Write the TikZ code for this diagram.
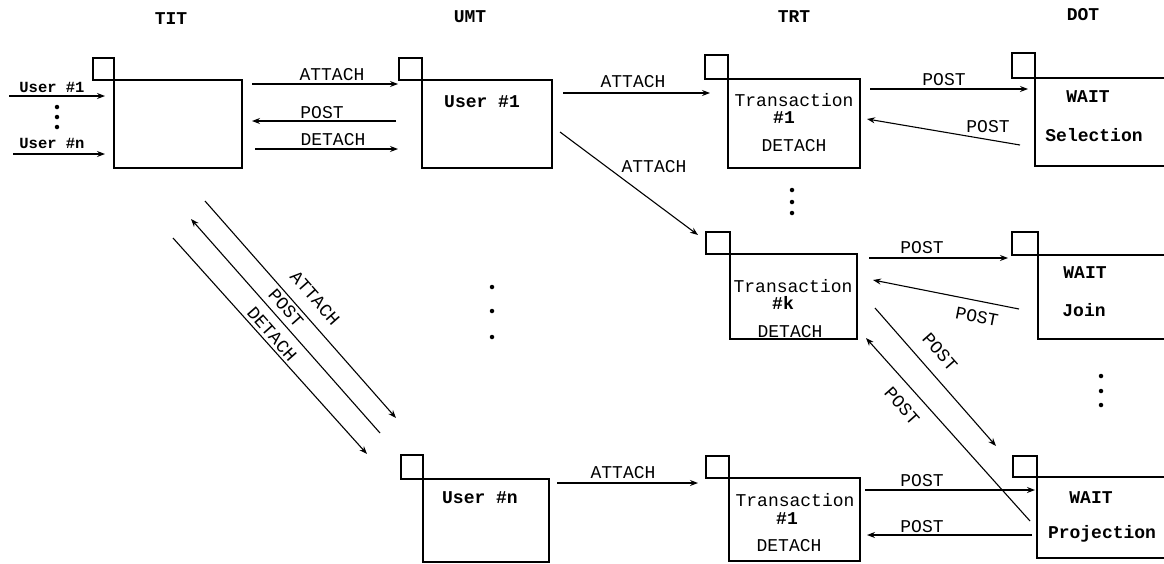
\documentclass[tikz,border=0pt]{standalone}
\usepackage{fontspec}
\newfontfamily\lmono{Liberation Mono}
\usetikzlibrary{arrows.meta,calc}
\begin{document}
\begin{tikzpicture}[x=1pt,y=-1pt,
  line width=1.1pt,
  arr/.style={-{Stealth[length=8pt,width=6pt]}},
  mbox/.style={draw, inner sep=0pt, outer sep=0pt, anchor=north west},
  tabbox/.style={draw, inner sep=0pt, outer sep=0pt, anchor=south east},
  ttl/.style={font=\lmono\bfseries\fontsize{18}{18}\selectfont, inner sep=0pt},
  btxt/.style={font=\lmono\bfseries\fontsize{18}{18}\selectfont, inner sep=0pt},
  ntxt/.style={font=\lmono\fontsize{18}{18}\selectfont, inner sep=0pt},
  utxt/.style={font=\lmono\bfseries\fontsize{15.5}{16}\selectfont, inner sep=0pt},
  alab/.style={font=\lmono\fontsize{18}{18}\selectfont, inner sep=0pt},
  bullet/.style={circle, fill, inner sep=0pt, minimum size=4.5pt}]
\useasboundingbox (0,0) rectangle (1164,563);
\clip (0,0) rectangle (1164,563);

% titles
\node[ttl] (tTIT) at (171,19) {TIT};
\node[ttl] (tUMT) at (470,17) {UMT};
\node[ttl] (tTRT) at (794,17) {TRT};
\node[ttl] (tDOT) at (1083,15) {DOT};

% boxes
\node[mbox, minimum width=128pt, minimum height=88pt] (tit) at (114,80) {};
\node[tabbox, minimum width=21pt, minimum height=22pt] (tittab) at (tit.north west) {};

\node[mbox, minimum width=130pt, minimum height=88pt] (umt1) at (422,80) {};
\node[tabbox, minimum width=23pt, minimum height=22pt] (umt1tab) at (umt1.north west) {};

\node[mbox, minimum width=132pt, minimum height=89pt] (trt1) at (728,79) {};
\node[tabbox, minimum width=23pt, minimum height=24pt] (trt1tab) at (trt1.north west) {};

\node[mbox, minimum width=200pt, minimum height=88pt] (dot1) at (1035,78) {};
\node[tabbox, minimum width=23pt, minimum height=25pt] (dot1tab) at (dot1.north west) {};

\node[mbox, minimum width=127pt, minimum height=85pt] (trtk) at (730,254) {};
\node[tabbox, minimum width=24pt, minimum height=22pt] (trtktab) at (trtk.north west) {};

\node[mbox, minimum width=200pt, minimum height=84pt] (dot2) at (1038,255) {};
\node[tabbox, minimum width=26pt, minimum height=23pt] (dot2tab) at (dot2.north west) {};

\node[mbox, minimum width=126pt, minimum height=83pt] (umtn) at (423,479) {};
\node[tabbox, minimum width=22pt, minimum height=24pt] (umtntab) at (umtn.north west) {};

\node[mbox, minimum width=131pt, minimum height=83pt] (trtn) at (729,478) {};
\node[tabbox, minimum width=23pt, minimum height=22pt] (trtntab) at (trtn.north west) {};

\node[mbox, minimum width=200pt, minimum height=81pt] (dot3) at (1037,477) {};
\node[tabbox, minimum width=24pt, minimum height=21pt] (dot3tab) at (dot3.north west) {};

% box texts
\node[btxt] (umt1t) at (482,102) {User \#1};
\node[ntxt] (trt1a) at (794,100) {Transaction};
\node[btxt] (trt1b) at (784,118) {\#1};
\node[ntxt] (trt1c) at (794,146) {DETACH};
\node[btxt] (dot1a) at (1088,97) {WAIT};
\node[btxt] (dot1b) at (1094,135) {Selection};
\node[ntxt] (trtka) at (793,286) {Transaction};
\node[btxt] (trtkb) at (783,303) {\#k};
\node[ntxt] (trtkc) at (790,332) {DETACH};
\node[btxt] (dot2a) at (1085,273) {WAIT};
\node[btxt] (dot2b) at (1084,310) {Join};
\node[btxt] (umtnt) at (480,498) {User \#n};
\node[ntxt] (trtna) at (795,500) {Transaction};
\node[btxt] (trtnb) at (787,519) {\#1};
\node[ntxt] (trtnc) at (789,546) {DETACH};
\node[btxt] (dot3a) at (1091,498) {WAIT};
\node[btxt] (dot3b) at (1102,534) {Projection};

% user inputs
\coordinate (u1) at (9,96);
\coordinate (un) at (13,154);
\draw[arr] (u1) -- ($(tit.north west)+(-9,16)$);
\draw[arr] (un) -- ($(tit.north west)+(-9,74)$);
\node[utxt] (u1l) at (52,87) {User \#1};
\node[utxt] (unl) at (52,143) {User \#n};
\node[bullet] (ud1) at (57,107) {};
\node[bullet] (ud2) at (57,117) {};
\node[bullet] (ud3) at (57,127) {};

% TIT <-> UMT1
\draw[arr] ($(tit.north east)+(10,4)$) -- ($(umt1tab.south west)+(-1,4)$);
\draw[arr] ($(umt1tab.south west)+(-3,41)$) -- ($(tit.north east)+(10,41)$);
\draw[arr] ($(tit.north east)+(13,69)$) -- ($(umt1tab.south west)+(-1,69)$);
\node[alab] (l1) at (332,75) {ATTACH};
\node[alab] (l2) at (322,113) {POST};
\node[alab] (l3) at (333,140) {DETACH};

% UMT1 -> TRT
\draw[arr] ($(umt1.north east)+(11,13)$) -- ($(trt1tab.south west)+(5,14)$);
\draw[arr] ($(umt1.north east)+(8,52)$) -- ($(trtktab.north west)+(-8,3)$);
\node[alab] (l4) at (633,82) {ATTACH};
\node[alab] (l5) at (654,167) {ATTACH};

% TRT1 <-> DOT1
\draw[arr] ($(trt1.north east)+(10,10)$) -- ($(dot1.north west)+(-7,11)$);
\draw[arr] ($(dot1.north west)+(-15,67)$) -- ($(trt1.north east)+(7,40)$);
\node[alab] (l6) at (944,80) {POST};
\node[alab] (l7) at (988,127) {POST};

% TRTk <-> DOT2
\draw[arr] ($(trtk.north east)+(12,4)$) -- ($(dot2tab.south west)+(-4,3)$);
\draw[arr] ($(dot2.north west)+(-19,54)$) -- ($(trtk.north east)+(16,26)$);
\node[alab] (l8) at (922,248) {POST};
\node[alab, rotate=-11] (l9) at (977,317) {POST};

% TRTk <-> DOT3 diagonals
\draw[arr] ($(trtk.south east)+(18,-31)$) -- ($(dot3tab.north west)+(-17,-10)$);
\draw[arr] ($(dot3.north west)+(-7,44)$) -- ($(trtk.south east)+(9,-1)$);
\node[alab, rotate=-48.5] (l10) at (940,352) {POST};
\node[alab, rotate=-48.5] (l11) at (902,406) {POST};

% TIT <-> UMTn diagonals
\draw[arr] ($(tit.south east)+(-37,33)$) -- ($(umtntab.north west)+(-5,-37)$);
\draw[arr] ($(umtntab.north west)+(-21,-22)$) -- ($(tit.south east)+(-51,51)$);
\draw[arr] ($(tit.south east)+(-69,70)$) -- ($(umtntab.north west)+(-34,-1)$);
\node[alab, rotate=-48.6] (l12) at (315,298) {ATTACH};
\node[alab, rotate=-48.6] (l13) at (286,308) {POST};
\node[alab, rotate=-48.6] (l14) at (272,334) {DETACH};

% UMTn -> TRTn, TRTn <-> DOT3
\draw[arr] ($(umtn.north east)+(8,4)$) -- ($(trtntab.south west)+(-8,5)$);
\node[alab] (l15) at (623,473) {ATTACH};
\draw[arr] ($(trtn.north east)+(5,12)$) -- ($(dot3.north west)+(-2,13)$);
\draw[arr] ($(dot3.north west)+(-5,58)$) -- ($(trtn.north east)+(7,57)$);
\node[alab] (l16) at (922,481) {POST};
\node[alab] (l17) at (922,527) {POST};

% ellipsis dots
\node[bullet] (td1) at (792,190) {};
\node[bullet] (td2) at (792,202) {};
\node[bullet] (td3) at (792,213) {};
\node[bullet] (md1) at (492,287) {};
\node[bullet] (md2) at (492,311) {};
\node[bullet] (md3) at (492,337) {};
\node[bullet] (dd1) at (1101,376) {};
\node[bullet] (dd2) at (1101,391) {};
\node[bullet] (dd3) at (1101,405) {};
\end{tikzpicture}
\end{document}
